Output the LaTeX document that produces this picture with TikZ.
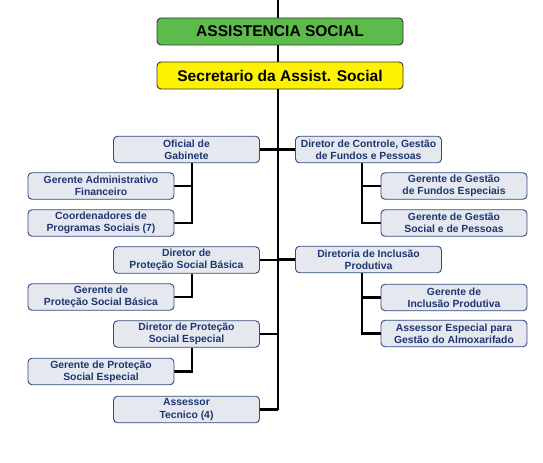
\documentclass[tikz,border=0pt]{standalone}
\usepackage{fontspec}
\setmainfont{Liberation Sans}
\usetikzlibrary{backgrounds}
\definecolor{boxfill}{HTML}{E5E8EF}
\definecolor{boxline}{HTML}{34497F}
\definecolor{boxtext}{HTML}{1E3571}
\definecolor{topgreen}{HTML}{5DBB4B}
\definecolor{topyellow}{HTML}{FFF200}
\begin{document}
\begin{tikzpicture}[x=1bp,y=-1bp,
  orgbox/.style={rounded corners=4bp, draw=boxline, fill=boxfill, line width=0.9bp,
    text=boxtext, font=\bfseries\fontsize{10.4}{12.3}\selectfont, align=center,
    minimum width=146bp, minimum height=26.5bp, inner sep=0pt},
  headbox/.style={rounded corners=4bp, draw=black!80, line width=0.9bp, text=black,
    font=\bfseries\fontsize{15.6}{18}\selectfont,
    minimum width=246bp, minimum height=27bp, inner sep=0pt},
  link/.style={line width=2.3bp, draw=black}]
\useasboundingbox (0,0) rectangle (543,463);
\node[headbox, fill=topgreen] (assist) at (280,31.5) {ASSISTENCIA SOCIAL};
\node[headbox, fill=topyellow] (secr) at (280,75.5) {Secretario da Assist. Social};
\coordinate (top) at (278,0);
\coordinate (bottom) at (278,409.5);

\node[orgbox] (ofic) at (186.5,149.5) {Oficial de\\Gabinete};
\node[orgbox] (dircont) at (368.5,149.5) {Diretor de Controle, Gestão\\de Fundos e Pessoas};
\node[orgbox] (geradm) at (101,186) {Gerente Administrativo\\Financeiro};
\node[orgbox] (coord) at (101,223) {Coordenadores de\\Programas Sociais (7)};
\node[orgbox] (dirpsb) at (186.5,260) {Diretor de\\Proteção Social Básica};
\node[orgbox] (gerpsb) at (101,297) {Gerente de\\Proteção Social Básica};
\node[orgbox] (dirpse) at (186.5,334) {Diretor de Proteção\\Social Especial};
\node[orgbox] (gerpse) at (101,371.5) {Gerente de Proteção\\Social Especial};
\node[orgbox] (asstec) at (186.5,409.5) {Assessor\\Tecnico (4)};
\node[orgbox] (gerfund) at (454,186) {Gerente de Gestão\\de Fundos Especiais};
\node[orgbox] (gersoc) at (454,223) {Gerente de Gestão\\Social e de Pessoas};
\node[orgbox] (dirincl) at (368.5,259.5) {Diretoria de Inclusão\\Produtiva};
\node[orgbox] (gerincl) at (454,297.5) {Gerente de\\Inclusão Produtiva};
\node[orgbox] (assesp) at (454,333.5) {Assessor Especial para\\Gestão do Almoxarifado};

\coordinate (oficb) at ([xshift=5.5bp]ofic.south);
\coordinate (dirpsbb) at ([xshift=5.5bp]dirpsb.south);
\coordinate (dirpseb) at ([xshift=5.5bp]dirpse.south);
\coordinate (dircontb) at ([xshift=-6.5bp]dircont.south);
\coordinate (dirinclb) at ([xshift=-6.5bp]dirincl.south);

\begin{scope}[on background layer]
  \draw[link] (top) -- (bottom);
  \draw[link] (ofic.east) -- (ofic.east -| top);
  \draw[link] (dircont.west) -- (dircont.west -| top);
  \draw[link] (dirpsb.east) -- (dirpsb.east -| top);
  \draw[link] (dirincl.west) -- (dirincl.west -| top);
  \draw[link] (dirpse.east) -- (dirpse.east -| top);
  \draw[link] (asstec.east) -- (bottom);
  % left sub branches
  \draw[link] (oficb) |- (coord.east);
  \draw[link] (geradm.east) -- (geradm.east -| oficb);
  \draw[link] (dirpsbb) |- (gerpsb.east);
  \draw[link] (dirpseb) |- (gerpse.east);
  % right sub branches
  \draw[link] (dircontb) |- (gersoc.west);
  \draw[link] (gerfund.west) -- (gerfund.west -| dircontb);
  \draw[link] (dirinclb) |- (assesp.west);
  \draw[link] (gerincl.west) -- (gerincl.west -| dirinclb);
\end{scope}
\end{tikzpicture}
\end{document}
